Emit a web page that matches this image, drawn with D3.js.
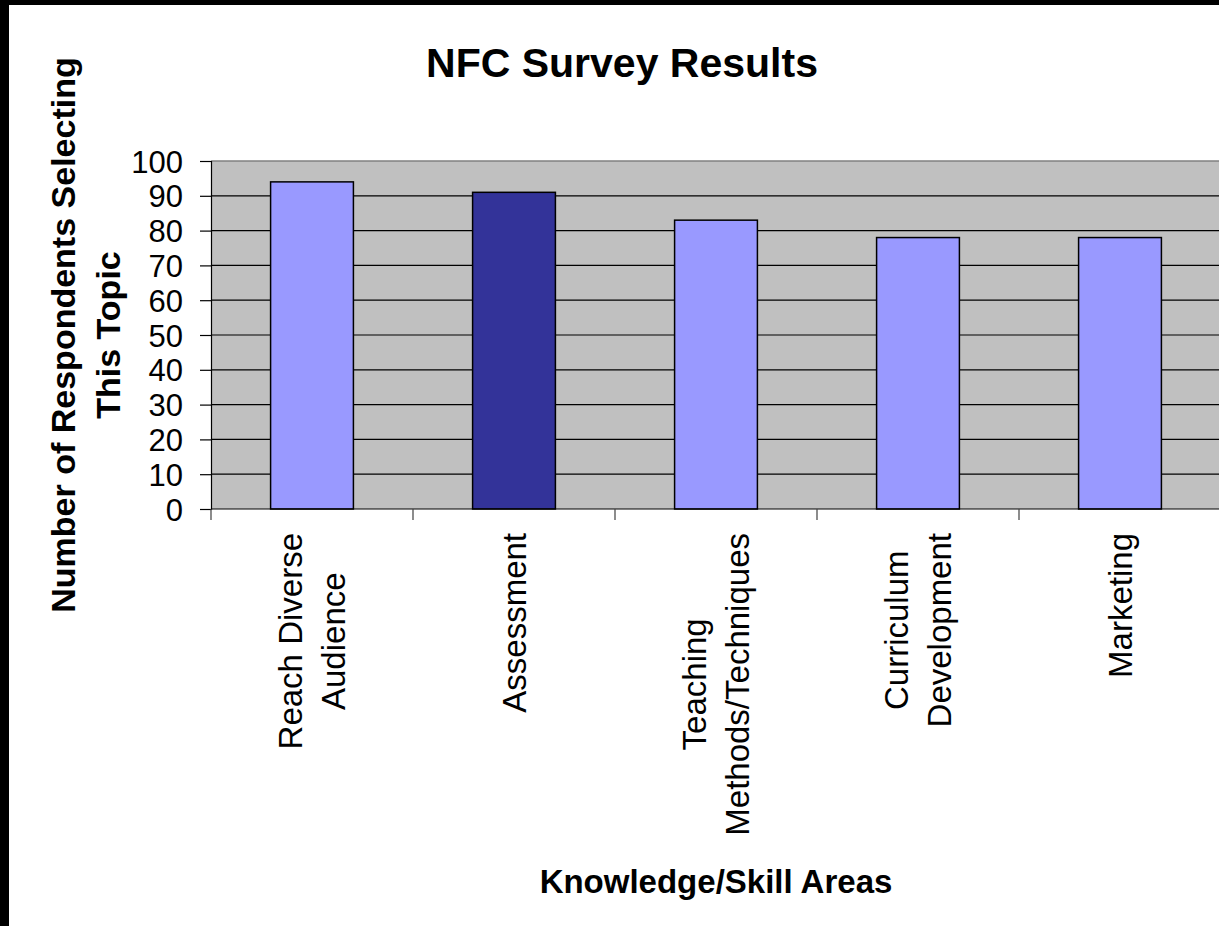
<!DOCTYPE html>
<meta charset="utf-8">
<script src="https://d3js.org/d3.v7.min.js"></script>
<style>
  body { margin: 0; background: #fff; }
  text { font-family: "Liberation Sans", Arial, sans-serif; fill: #000; }
</style>
<div id="chart"></div>
<script>

// data
var categories = ["Reach Diverse Audience", "Assessment", "Teaching Methods/Techniques", "Curriculum Development", "Marketing"];
var labelLines = [["Reach Diverse", "Audience"], ["Assessment"], ["Teaching", "Methods/Techniques"], ["Curriculum", "Development"], ["Marketing"]];
var respondents = [94, 91, 83, 78, 78];
var yTicks = [0, 10, 20, 30, 40, 50, 60, 70, 80, 90, 100];
var highlighted = "Assessment";

var W = 1219, H = 926;
var plot = {left: 211, right: 1221, top: 161, bottom: 509};

var svg = d3.select("#chart").append("svg")
    .attr("width", W)
    .attr("height", H);

// black frame on top and left
svg.append("rect").attr("x", 0).attr("y", 0).attr("width", W).attr("height", 5).attr("fill", "#000");
svg.append("rect").attr("x", 0).attr("y", 0).attr("width", 9).attr("height", H).attr("fill", "#000");

var x = d3.scaleBand()
    .domain(categories)
    .range([plot.left, plot.right])
    .padding(0);

var y = d3.scaleLinear()
    .domain([0, 100])
    .range([plot.bottom, plot.top]);

// plot background
svg.append("rect")
    .attr("x", plot.left)
    .attr("y", plot.top)
    .attr("width", plot.right - plot.left)
    .attr("height", plot.bottom - plot.top)
    .attr("fill", "#c0c0c0");

// gridlines
svg.append("g")
  .selectAll("line")
  .data(yTicks.filter(function(d) { return d > 0 && d < 100; }))
  .enter().append("line")
    .attr("x1", plot.left)
    .attr("x2", plot.right)
    .attr("y1", function(d) { return y(d); })
    .attr("y2", function(d) { return y(d); })
    .attr("stroke", "#000")
    .attr("stroke-width", 1.2);

// top border of the plot
svg.append("line")
    .attr("x1", plot.left).attr("x2", plot.right)
    .attr("y1", y(100)).attr("y2", y(100))
    .attr("stroke", "#808080").attr("stroke-width", 1.5);

// bars
var barW = x.bandwidth() * 0.41;
svg.append("g")
  .selectAll("rect")
  .data(respondents)
  .enter().append("rect")
    .attr("x", function(d, i) { return x(categories[i]) + (x.bandwidth() - barW) / 2; })
    .attr("y", function(d) { return y(d); })
    .attr("width", barW)
    .attr("height", function(d) { return y(0) - y(d); })
    .attr("fill", function(d, i) { return categories[i] === highlighted ? "#333399" : "#9999ff"; })
    .attr("stroke", "#000")
    .attr("stroke-width", 1.5);

// y axis
var yAxis = svg.append("g")
    .attr("transform", "translate(" + plot.left + ",0)")
    .call(d3.axisLeft(y).tickValues(yTicks).tickSize(11).tickPadding(17));
yAxis.select(".domain").attr("stroke", "#000").attr("stroke-width", 1.2);
yAxis.selectAll(".tick line").attr("stroke", "#000").attr("stroke-width", 1.2);
yAxis.selectAll(".tick text")
    .style("font-family", '"Liberation Sans", Arial, sans-serif')
    .style("font-size", "31px")
    .attr("dy", "0.36em");

// x axis line and boundary ticks
svg.append("line")
    .attr("x1", plot.left).attr("x2", plot.right)
    .attr("y1", y(0)).attr("y2", y(0))
    .attr("stroke", "#000").attr("stroke-width", 1.2);

var bounds = categories.map(function(c) { return x(c); }).concat([plot.right]);
svg.append("g")
  .selectAll("line")
  .data(bounds)
  .enter().append("line")
    .attr("x1", function(d) { return d; })
    .attr("x2", function(d) { return d; })
    .attr("y1", y(0))
    .attr("y2", y(0) + 11)
    .attr("stroke", "#404040")
    .attr("stroke-width", 1.2);

// category labels, rotated, lines centred on each other
var labelTop = 533, lineGap = 43;
var labels = svg.append("g")
  .selectAll("g")
  .data(categories)
  .enter().append("g");

labels.each(function(c, i) {
  var g = d3.select(this);
  var lines = labelLines[i];
  var t = g.append("text")
      .style("font-size", "33px")
      .attr("text-anchor", "middle");
  lines.forEach(function(s, k) {
    t.append("tspan")
        .attr("x", 0)
        .attr("y", (k - (lines.length - 1) / 2) * lineGap)
        .attr("dy", "0.36em")
        .text(s);
  });
  var maxLen = d3.max(t.selectAll("tspan").nodes(), function(n) { return n.getComputedTextLength(); });
  t.attr("transform", "translate(" + (-maxLen / 2) + ",0)");
  g.attr("transform", "translate(" + (x(c) + x.bandwidth() / 2) + "," + labelTop + ") rotate(-90)");
});

// title
svg.append("text")
    .attr("x", 622)
    .attr("y", 77)
    .attr("text-anchor", "middle")
    .style("font-size", "41px")
    .style("font-weight", "bold")
    .text("NFC Survey Results");

// x axis title
svg.append("text")
    .attr("x", (plot.left + plot.right) / 2)
    .attr("y", 893)
    .attr("text-anchor", "middle")
    .style("font-size", "33px")
    .style("font-weight", "bold")
    .text("Knowledge/Skill Areas");

// y axis title
var yTitle = svg.append("text")
    .attr("transform", "translate(85," + ((plot.top + plot.bottom) / 2) + ") rotate(-90)")
    .attr("text-anchor", "middle")
    .style("font-size", "34px")
    .style("font-weight", "bold");
["Number of Respondents Selecting", "This Topic"].forEach(function(s, k) {
  yTitle.append("tspan")
      .attr("x", 0)
      .attr("y", (k - 0.5) * 45)
      .attr("dy", "0.36em")
      .text(s);
});

</script>
